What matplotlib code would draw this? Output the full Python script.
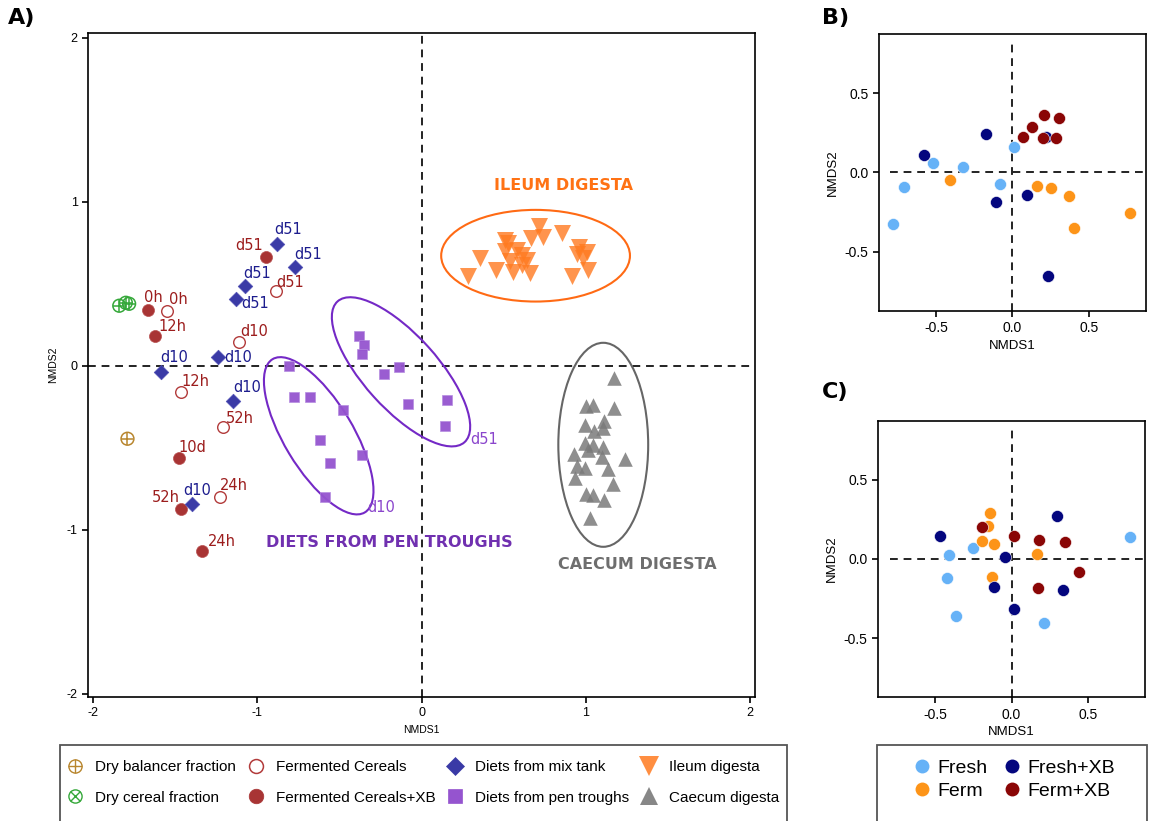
import numpy as np
import matplotlib.pyplot as plt
from matplotlib.patches import Ellipse, Rectangle
from matplotlib.lines import Line2D

plt.rcParams['font.family'] = ['Liberation Sans', 'DejaVu Sans']
plt.rcParams['axes.unicode_minus'] = False

# ---- panel A: NMDS of feed and digesta samples ----
bal_x = [-1.79]
bal_y = [-0.445]
cer_x = [-1.84, -1.80, -1.78]
cer_y = [0.366, 0.384, 0.378]

# fermented cereals (open)
fc_x = [-1.548, -0.889, -1.109, -1.467, -1.210, -1.224]
fc_y = [0.335, 0.453, 0.142, -0.159, -0.374, -0.799]
fc_lab = ["0h", "d51", "d10", "12h", "52h", "24h"]

# fermented cereals + XB (filled)
fcxb_x = [-1.666, -1.620, -0.944, -1.477, -1.465, -1.337]
fcxb_y = [0.341, 0.183, 0.666, -0.563, -0.872, -1.128]
fcxb_lab = ["0h", "12h", "d51", "10d", "52h", "24h"]

# diets from mix tank
mix_x = [-0.881, -0.772, -1.076, -1.129, -1.238, -1.583, -1.146, -1.400]
mix_y = [0.744, 0.605, 0.486, 0.407, 0.053, -0.039, -0.213, -0.846]
mix_lab = ["d51", "d51", "d51", "d51", "d10", "d10", "d10", "d10"]

# diets from pen troughs
pen_x = [-0.809, -0.778, -0.677, -0.478, -0.616, -0.559, -0.365, -0.588,
         -0.379, -0.348, -0.365, -0.231, -0.140, -0.083, 0.156, 0.144]
pen_y = [-0.004, -0.191, -0.193, -0.268, -0.451, -0.590, -0.545, -0.803,
         0.183, 0.128, 0.071, -0.051, -0.010, -0.232, -0.207, -0.370]

ile_x = [0.717, 0.665, 0.742, 0.853, 0.505, 0.529, 0.580, 0.505, 0.610, 0.357,
         0.539, 0.641, 0.610, 0.452, 0.559, 0.661, 0.282, 0.960, 0.944, 1.009,
         0.985, 0.918, 1.015]
ile_y = [0.854, 0.778, 0.788, 0.809, 0.768, 0.748, 0.707, 0.697, 0.677, 0.657,
         0.636, 0.646, 0.616, 0.585, 0.569, 0.565, 0.549, 0.723, 0.683, 0.691,
         0.657, 0.549, 0.581]

cae_x = [1.173, 1.001, 1.046, 1.173, 0.995, 1.111, 1.106, 1.052, 0.995, 1.041,
         1.106, 1.015, 0.930, 1.097, 1.239, 0.944, 0.995, 1.133, 0.934, 1.167,
         1.001, 1.046, 1.112, 1.026]
cae_y = [-0.075, -0.248, -0.238, -0.258, -0.360, -0.335, -0.380, -0.400, -0.471,
         -0.482, -0.496, -0.512, -0.537, -0.557, -0.569, -0.614, -0.624, -0.628,
         -0.685, -0.720, -0.780, -0.787, -0.817, -0.929]

# group ellipses: centre x, centre y, width, height, angle
ell_d10 = [-0.626, -0.427, 1.09, 0.42, -59]
ell_d51 = [-0.125, -0.037, 1.155, 0.45, -48]
ell_ile = [0.694, 0.671, 1.149, 0.559, 0]
ell_cae = [1.106, -0.482, 0.547, 1.244, 0]

# ---- panels B and C ----
groups = ["Fresh", "Ferm", "Fresh+XB", "Ferm+XB"]
b_x = {
    "Fresh": [-0.784, -0.710, -0.519, -0.322, -0.083, 0.013],
    "Ferm": [-0.412, 0.163, 0.255, 0.373, 0.401, 0.773],
    "Fresh+XB": [-0.577, -0.172, -0.111, 0.096, 0.220, 0.233],
    "Ferm+XB": [0.070, 0.129, 0.205, 0.303, 0.200, 0.283],
}
b_y = {
    "Fresh": [-0.323, -0.091, 0.063, 0.036, -0.070, 0.158],
    "Ferm": [-0.049, -0.084, -0.101, -0.150, -0.352, -0.253],
    "Fresh+XB": [0.110, 0.241, -0.186, -0.143, 0.226, -0.656],
    "Ferm+XB": [0.222, 0.285, 0.363, 0.342, 0.219, 0.215],
}
c_x = {
    "Fresh": [-0.408, -0.426, -0.252, -0.362, 0.210, 0.779],
    "Ferm": [-0.141, -0.157, -0.192, -0.113, -0.128, 0.168],
    "Fresh+XB": [-0.470, -0.042, -0.115, 0.018, 0.298, 0.336],
    "Ferm+XB": [-0.194, 0.015, 0.177, 0.347, 0.444, 0.170],
}
c_y = {
    "Fresh": [0.025, -0.118, 0.069, -0.361, -0.403, 0.141],
    "Ferm": [0.290, 0.210, 0.116, 0.092, -0.111, 0.034],
    "Fresh+XB": [0.147, 0.015, -0.176, -0.315, 0.269, -0.195],
    "Ferm+XB": [0.200, 0.147, 0.120, 0.109, -0.084, -0.183],
}
grp_col = {"Fresh": "#66b2f7", "Ferm": "#fd9418",
           "Fresh+XB": "#04067e", "Ferm+XB": "#8a0606"}

# label offsets (pixels) for point names in panel A
fc_off = [(11, 11), (15, 9), (15, 11), (15, 10), (17, 9), (13, 11)]
fcxb_off = [(6, 12), (17, 9), (-17, 11), (13, 11), (-15, 11), (20, 9)]
mix_off = [(11, 14), (13, 12), (12, 13), (19, -4), (20, 0), (13, 15), (14, 13), (6, 14)]

RED_T = "#9c1d1d"
BLUE_T = "#1d1d8e"
C_BAL = "#b8862e"
C_CER = "#35a83a"
C_FC = "#b23b3b"
C_FCXB = "#a83434"
C_MIX = "#3a3aa6"
C_PEN = "#9554cf"
C_ILE = "#ff7a20"
C_CAE = "#7a7a7a"

fig = plt.figure(figsize=(11.57, 8.21), dpi=100)
axA = fig.add_axes([0.0761, 0.151, 0.5765, 0.809])
axB = fig.add_axes([0.7597, 0.6212, 0.2308, 0.3374])
axC = fig.add_axes([0.7590, 0.1507, 0.2307, 0.3369])

dash = (0, (4, 3))
axA.axhline(0, color="#222222", lw=1.4, ls=dash, zorder=1)
axA.axvline(0, color="#222222", lw=1.4, ls=dash, zorder=1)

for e, col in [(ell_d10, "#7429c6"), (ell_d51, "#7429c6"),
               (ell_ile, "#ff6a14"), (ell_cae, "#666666")]:
    axA.add_patch(Ellipse((e[0], e[1]), e[2], e[3], angle=e[4],
                          fill=False, edgecolor=col, lw=1.5, zorder=2))

# globe-like markers: open circle with a cross inside
axA.scatter(bal_x, bal_y, marker="o", s=85, facecolor="none", edgecolor=C_BAL, linewidths=1.1, zorder=3)
axA.scatter(bal_x, bal_y, marker="+", s=85, color=C_BAL, linewidths=1.1, zorder=3)
axA.scatter(cer_x, cer_y, marker="o", s=85, facecolor="none", edgecolor=C_CER, linewidths=1.1, zorder=3)
axA.scatter(cer_x, cer_y, marker="+", s=85, color=C_CER, linewidths=1.1, zorder=3)

axA.scatter(fc_x, fc_y, marker="o", s=70, facecolor="white",
            edgecolor=C_FC, linewidths=1.0, zorder=3)
axA.scatter(fcxb_x, fcxb_y, marker="o", s=75, color=C_FCXB,
            edgecolor="#b85050", linewidths=0.5, zorder=3)
axA.scatter(mix_x, mix_y, marker="D", s=55, color=C_MIX,
            edgecolor="#5050b5", linewidths=0.5, zorder=3)
axA.scatter(pen_x, pen_y, marker="s", s=60, color=C_PEN,
            edgecolor="#b48ae0", linewidths=0.5, alpha=0.95, zorder=3)
axA.scatter(ile_x, ile_y, marker="v", s=150, color=C_ILE,
            alpha=0.8, linewidths=0, zorder=3)
axA.scatter(cae_x, cae_y, marker="^", s=110, color=C_CAE,
            alpha=0.85, linewidths=0, zorder=3)

px = 72 / 100
for xs, ys, labs, offs, col in [(fc_x, fc_y, fc_lab, fc_off, RED_T),
                                (fcxb_x, fcxb_y, fcxb_lab, fcxb_off, RED_T),
                                (mix_x, mix_y, mix_lab, mix_off, BLUE_T)]:
    for x, y, t, (dx, dy) in zip(xs, ys, labs, offs):
        axA.annotate(t, (x, y), xytext=(dx * px, dy * px), textcoords="offset points",
                     ha="center", va="center", color=col, fontsize=10.5,
                     family="DejaVu Sans", zorder=4)

axA.text(0.863, 1.097, "ILEUM DIGESTA", color="#ff7214", fontsize=11.5,
         fontweight="bold", family="DejaVu Sans", ha="center", va="center")
axA.text(-0.195, -1.079, "DIETS FROM PEN TROUGHS", color="#7030b0", fontsize=11.5,
         fontweight="bold", family="DejaVu Sans", ha="center", va="center")
axA.text(1.313, -1.213, "CAECUM DIGESTA", color="#6e6e6e", fontsize=11.5,
         fontweight="bold", family="DejaVu Sans", ha="center", va="center")
axA.text(-0.243, -0.866, "d10", color="#8a45cc", fontsize=10.5,
         family="DejaVu Sans", ha="center", va="center")
axA.text(0.383, -0.451, "d51", color="#8a45cc", fontsize=10.5,
         family="DejaVu Sans", ha="center", va="center")

axA.set_xlim(-2.03, 2.03)
axA.set_ylim(-2.02, 2.03)
axA.set_xticks([-2, -1, 0, 1, 2])
axA.set_yticks([-2, -1, 0, 1, 2])
axA.set_xlabel("NMDS1", fontsize=7.5, labelpad=4)
axA.set_ylabel("NMDS2", fontsize=7.5, labelpad=6)
axA.tick_params(labelsize=9, direction="out", length=4, width=1.2)
for sp in axA.spines.values():
    sp.set_linewidth(1.2)

for ax, dx, dy in [(axB, b_x, b_y), (axC, c_x, c_y)]:
    ax.axhline(0, xmin=0.043, color="#222222", lw=1.4, ls=dash, zorder=1)
    ax.axvline(0, ymax=0.98, color="#222222", lw=1.4, ls=dash, zorder=1)
    for g in groups:
        ax.scatter(dx[g], dy[g], s=75, color=grp_col[g], edgecolor="white",
                   linewidths=0.4, zorder=3, label=g)
    ax.set_xlim(-0.875, 0.875)
    ax.set_ylim(-0.875, 0.875)
    ax.set_xticks([-0.5, 0.0, 0.5])
    ax.set_yticks([-0.5, 0.0, 0.5])
    ax.set_xlabel("NMDS1", fontsize=9.5, labelpad=3)
    ax.set_ylabel("NMDS2", fontsize=9.5, labelpad=4)
    ax.tick_params(labelsize=10, direction="out", length=4, width=1.2)
    for sp in ax.spines.values():
        sp.set_linewidth(1.2)

fig.text(0.007, 0.99, "A)", fontsize=16, fontweight="bold", family="DejaVu Sans", va="top")
fig.text(0.7105, 0.99, "B)", fontsize=16, fontweight="bold", family="DejaVu Sans", va="top")
fig.text(0.7105, 0.535, "C)", fontsize=16, fontweight="bold", family="DejaVu Sans", va="top")

# legend frames
fig.patches.append(Rectangle((0.0519, -0.01), 0.6283, 0.1026, transform=fig.transFigure,
                             fill=False, edgecolor="#555555", lw=1.3))
fig.patches.append(Rectangle((0.758, -0.01), 0.2334, 0.1026, transform=fig.transFigure,
                             fill=False, edgecolor="#555555", lw=1.3))


def proxy(marker, ms, color, face=None, mew=1.0, alpha=1.0):
    return Line2D([], [], ls="none", marker=marker, ms=ms, color=color,
                  markerfacecolor=face if face is not None else color,
                  markeredgewidth=mew, alpha=alpha)


leg_handles = [
    (proxy("o", 9.5, C_BAL, "none", 1.0), proxy("+", 9.5, C_BAL, mew=1.0)),
    (proxy("o", 9.5, C_CER, "none", 1.0), proxy("x", 6.5, C_CER, mew=1.0)),
    proxy("o", 10, C_FC, "white", 1.1),
    proxy("o", 10.5, C_FCXB, mew=0.5),
    proxy("D", 9.5, C_MIX, mew=0.5),
    proxy("s", 10, C_PEN, mew=0.5),
    proxy("v", 14.5, C_ILE, mew=0, alpha=0.85),
    proxy("^", 13.5, C_CAE, mew=0, alpha=0.9),
]
leg_labels = ["Dry balancer fraction", "Dry cereal fraction", "Fermented Cereals",
              "Fermented Cereals+XB", "Diets from mix tank", "Diets from pen troughs",
              "Ileum digesta", "Caecum digesta"]
fig.legend(handles=leg_handles, labels=leg_labels,
           loc="upper left", bbox_to_anchor=(0.0570, 0.0743), ncol=4,
           frameon=False, fontsize=11, borderpad=0, handlelength=1.2,
           handletextpad=0.7, columnspacing=0.7, labelspacing=1.1,
           borderaxespad=0)

hB = [proxy("o", 10, grp_col[g], mew=0) for g in groups]
fig.legend(handles=hB, labels=groups, loc="upper left",
           bbox_to_anchor=(0.790, 0.0755), ncol=2, frameon=False, fontsize=14,
           borderpad=0, handlelength=0.8, handletextpad=0.4, columnspacing=0.84,
           labelspacing=0.3, borderaxespad=0)

fig.savefig("out.png", dpi=100)
